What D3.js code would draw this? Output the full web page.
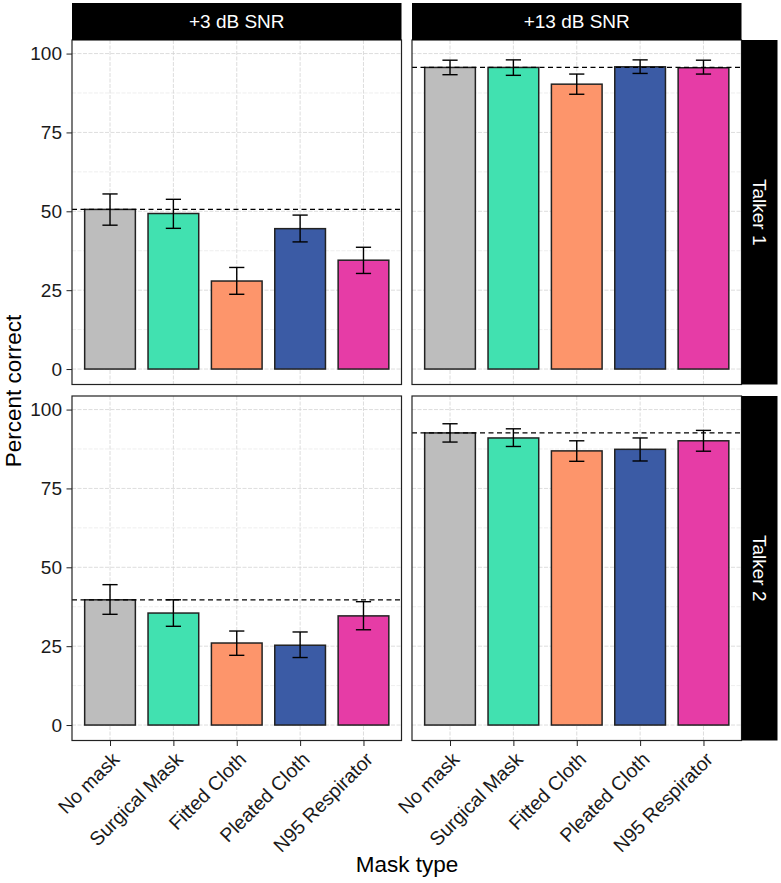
<!DOCTYPE html>
<html><head><meta charset="utf-8">
<script src="https://cdn.jsdelivr.net/npm/d3@7"></script>
<style>body{margin:0;background:#fff}svg{display:block;font-family:"Liberation Sans",Arial,sans-serif}</style>
</head><body>
<svg id="c" width="781" height="883"></svg>
<script>
const categories = ["No mask","Surgical Mask","Fitted Cloth","Pleated Cloth","N95 Respirator"];
const snrLevels = ["+3 dB SNR","+13 dB SNR"];
const talkers = ["Talker 1","Talker 2"];
const colors = ["#bdbdbd","#41e1b0","#fd956b","#3b5ba5","#e63ca6"];
const yTicks = [0,25,50,75,100];

const t1_snr3_mean  = [50.6, 49.3, 27.9, 44.5, 34.5];
const t1_snr3_lo    = [45.6, 44.6, 23.7, 40.3, 30.3];
const t1_snr3_hi    = [55.5, 53.8, 32.2, 48.8, 38.6];
const t1_snr13_mean = [95.6, 95.6, 90.3, 95.8, 95.5];
const t1_snr13_lo   = [93.3, 93.1, 87.1, 93.7, 93.5];
const t1_snr13_hi   = [97.9, 98.0, 93.5, 98.0, 97.9];
const t2_snr3_mean  = [39.7, 35.5, 26.0, 25.3, 34.6];
const t2_snr3_lo    = [35.1, 31.3, 22.1, 21.4, 30.2];
const t2_snr3_hi    = [44.5, 39.7, 29.8, 29.5, 39.1];
const t2_snr13_mean = [92.6, 91.0, 86.9, 87.4, 90.1];
const t2_snr13_lo   = [89.7, 88.3, 83.6, 83.7, 86.8];
const t2_snr13_hi   = [95.5, 93.9, 90.1, 91.0, 93.4];

const panels = [
  {row:0,col:0,mean:t1_snr3_mean,lo:t1_snr3_lo,hi:t1_snr3_hi},
  {row:0,col:1,mean:t1_snr13_mean,lo:t1_snr13_lo,hi:t1_snr13_hi},
  {row:1,col:0,mean:t2_snr3_mean,lo:t2_snr3_lo,hi:t2_snr3_hi},
  {row:1,col:1,mean:t2_snr13_mean,lo:t2_snr13_lo,hi:t2_snr13_hi}
];

const svg = d3.select("#c");
const colX = [72, 412], pw = 329.5;
const rowY = [40, 396], ph = 344.5;
const FS = 19;

const x = d3.scalePoint().domain(categories).range([0, pw]).padding(0.6);
const step = x.step();
const y = d3.scaleLinear().domain([-4.9, 104.3]).range([ph, 0]);

panels.forEach(p => {
  const g = svg.append("g").attr("transform", `translate(${colX[p.col]},${rowY[p.row]})`);
  const minor = [12.5,37.5,62.5,87.5];
  g.selectAll(".mn").data(minor).enter().append("line")
    .attr("x1",0).attr("x2",pw).attr("y1",d=>y(d)).attr("y2",d=>y(d))
    .attr("stroke","#e2e2e2").attr("stroke-width",0.6).attr("stroke-dasharray","4,1.5");
  g.selectAll(".mj").data(yTicks).enter().append("line")
    .attr("x1",0).attr("x2",pw).attr("y1",d=>y(d)).attr("y2",d=>y(d))
    .attr("stroke","#d4d4d4").attr("stroke-width",0.8).attr("stroke-dasharray","4,1.5");
  g.selectAll(".vg").data(categories).enter().append("line")
    .attr("x1",d=>x(d)).attr("x2",d=>x(d)).attr("y1",0).attr("y2",ph)
    .attr("stroke","#d4d4d4").attr("stroke-width",0.8).attr("stroke-dasharray","4,1.5");
  const bw = step*0.8;
  g.selectAll(".bar").data(categories).enter().append("rect")
    .attr("x",d=>x(d)-bw/2).attr("width",bw)
    .attr("y",(d,i)=>y(p.mean[i])).attr("height",(d,i)=>y(0)-y(p.mean[i]))
    .attr("fill",(d,i)=>colors[i]).attr("stroke","#222").attr("stroke-width",1.5);
  g.append("line").attr("x1",0).attr("x2",pw).attr("y1",y(p.mean[0])).attr("y2",y(p.mean[0]))
    .attr("stroke","#000").attr("stroke-width",1.2).attr("stroke-dasharray","5,3.5");
  const cw = step*0.24;
  categories.forEach((c,i)=>{
    const cx = x(c);
    g.append("line").attr("x1",cx).attr("x2",cx).attr("y1",y(p.lo[i])).attr("y2",y(p.hi[i])).attr("stroke","#000").attr("stroke-width",1.4);
    g.append("line").attr("x1",cx-cw/2).attr("x2",cx+cw/2).attr("y1",y(p.lo[i])).attr("y2",y(p.lo[i])).attr("stroke","#000").attr("stroke-width",1.4);
    g.append("line").attr("x1",cx-cw/2).attr("x2",cx+cw/2).attr("y1",y(p.hi[i])).attr("y2",y(p.hi[i])).attr("stroke","#000").attr("stroke-width",1.4);
  });
  g.append("rect").attr("x",0).attr("y",0).attr("width",pw).attr("height",ph)
    .attr("fill","none").attr("stroke","#222").attr("stroke-width",1.2);
  if (p.col===0) {
    const ax = g.append("g").call(d3.axisLeft(y).tickValues(yTicks).tickSize(5.5).tickPadding(4.5).tickSizeOuter(0));
    ax.select(".domain").remove();
    ax.selectAll(".tick line").attr("stroke","#222").attr("stroke-width",1);
    ax.selectAll(".tick text").attr("font-size",FS).attr("fill","#1a1a1a").attr("font-family","Liberation Sans, Arial, sans-serif");
  }
  if (p.row===1) {
    const ax = g.append("g").attr("transform",`translate(0,${ph})`).call(d3.axisBottom(x).tickSize(5.5).tickSizeOuter(0));
    ax.select(".domain").remove();
    ax.selectAll(".tick line").attr("stroke","#222").attr("stroke-width",1);
    ax.selectAll(".tick text").attr("font-size",19.5).attr("fill","#1a1a1a")
      .attr("font-family","Liberation Sans, Arial, sans-serif")
      .attr("text-anchor","end").attr("dy",null).attr("y",0)
      .attr("transform","translate(0,10) rotate(-45)").attr("dominant-baseline","hanging");
  }
});

snrLevels.forEach((s,i)=>{
  svg.append("rect").attr("x",colX[i]).attr("y",3).attr("width",pw).attr("height",37).attr("fill","#000");
  svg.append("text").attr("x",colX[i]+pw/2).attr("y",21.5).attr("text-anchor","middle").attr("dominant-baseline","central")
    .attr("fill","#fff").attr("font-size",FS).text(s);
});
talkers.forEach((t,i)=>{
  svg.append("rect").attr("x",colX[1]+pw).attr("y",rowY[i]).attr("width",36).attr("height",ph).attr("fill","#000");
  svg.append("text").attr("transform",`translate(${colX[1]+pw+18},${rowY[i]+ph/2}) rotate(90)`)
    .attr("text-anchor","middle").attr("dominant-baseline","central")
    .attr("fill","#fff").attr("font-size",FS).text(t);
});
svg.append("text").attr("transform","translate(13,391) rotate(-90)").attr("text-anchor","middle")
  .attr("dominant-baseline","central").attr("font-size",22.5).attr("fill","#000").text("Percent correct");
svg.append("text").attr("x",407).attr("y",864).attr("text-anchor","middle")
  .attr("dominant-baseline","central").attr("font-size",22.5).attr("fill","#000").text("Mask type");
</script>
</body></html>
